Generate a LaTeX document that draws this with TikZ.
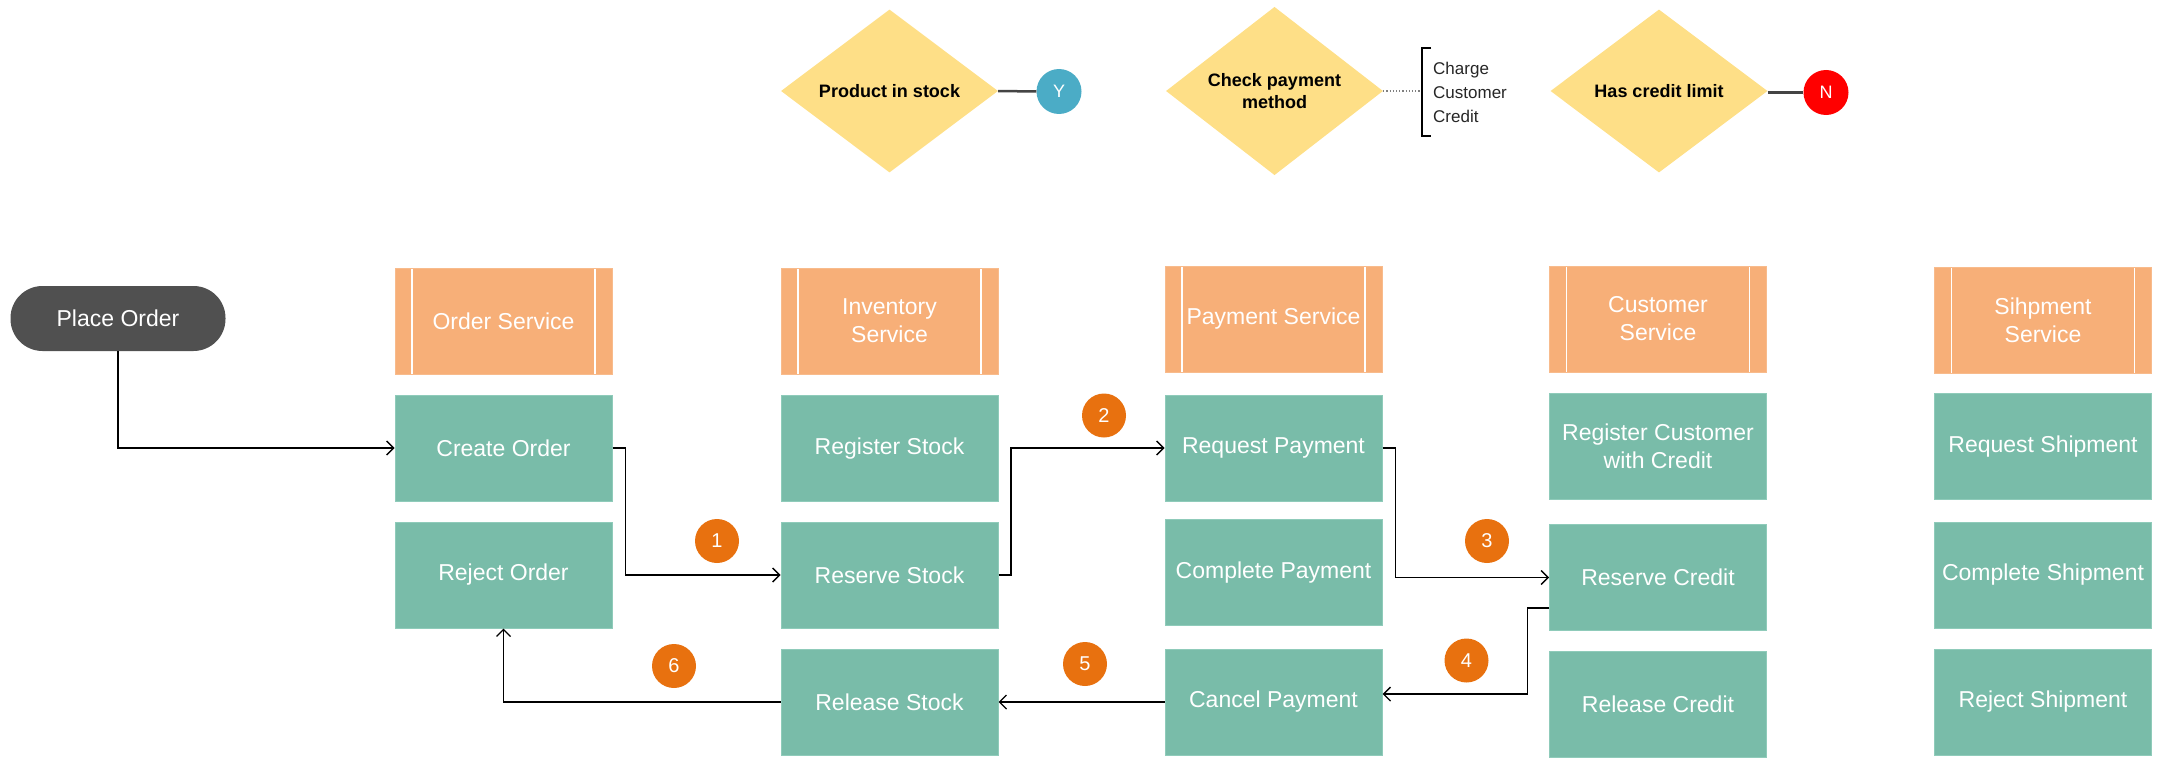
\documentclass[tikz,border=0pt]{standalone}
\usepackage{fontspec}
\setmainfont{Liberation Sans}
\usetikzlibrary{shapes.geometric,arrows.meta}
\definecolor{teal1}{HTML}{79BCA9}
\definecolor{tealb}{HTML}{8FCBBA}
\definecolor{orng}{HTML}{F7AF78}
\definecolor{ylw}{HTML}{FEDF87}
\definecolor{badgec}{HTML}{E8710F}
\definecolor{pillc}{HTML}{505050}
\definecolor{ycirc}{HTML}{4BACC6}
\definecolor{ncirc}{HTML}{FF0000}
\definecolor{linkc}{HTML}{444444}
\begin{document}
\begin{tikzpicture}[x=1pt,y=-1pt,
 task/.style={rectangle, fill=teal1, draw=tealb, line width=1pt, minimum width=217pt, minimum height=106pt, inner sep=0pt, text=white, font=\fontsize{23}{28}\selectfont, align=center},
 svc/.style={task, fill=orng, draw=orng!85!white, path picture={\draw[white,line width=1.5pt] ([xshift=17pt]path picture bounding box.north west) -- ([xshift=17pt]path picture bounding box.south west) ([xshift=-17pt]path picture bounding box.north east) -- ([xshift=-17pt]path picture bounding box.south east);}},
 pill/.style={rectangle, rounded corners=32pt, fill=pillc, minimum width=215pt, minimum height=65pt, inner sep=0pt, text=white, font=\fontsize{23}{28}\selectfont},
 badge/.style={circle, fill=badgec, minimum size=44pt, inner sep=0pt, text=white, font=\fontsize{20}{24}\selectfont},
 decision/.style={diamond, fill=ylw, minimum width=217pt, minimum height=163pt, inner sep=0pt, font=\bfseries\fontsize{18}{22}\selectfont, align=center},
 flag/.style={circle, minimum size=45pt, inner sep=0pt, text=white, font=\fontsize{18}{22}\selectfont},
 arr/.style={draw=black, line width=1.4pt, -{Straight Barb[length=7pt,width=14pt]}},
 link/.style={draw=linkc, line width=2.5pt},
]
\useasboundingbox (0,0) rectangle (2169,768);

% top decisions
\node[decision] (d1) at (889.5,91) {Product in stock};
\node[decision] (d2) at (1274.5,91) {Check payment\\method};
\node[decision] (d3) at (1659,91) {Has credit limit};
\node[flag, fill=ycirc] (yc) at (1059,91.5) {Y};
\node[flag, fill=ncirc] (nc) at (1826,92.5) {N};
\draw[link] (d1.east) -- (yc.west);
\draw[link] (d3.east |- nc.west) -- (nc.west);
\coordinate (br) at (1422,91);
\draw[gray, line width=1.2pt, dotted] (d2.east) -- (br);
\draw[black, line width=1.3pt] (1431,48) -- (1422,48) -- (1422,136) -- (1431,136);
\node[anchor=west, align=left, inner sep=0pt, font=\fontsize{17}{24}\selectfont, text=black!85] (chg) at (1433,92) {Charge\\Customer\\Credit};

% start
\node[pill] (po) at (118,318.5) {Place Order};

% headers
\node[svc] (hos) at (503.5,321) {Order Service};
\node[svc] (his) at (889.5,321) {Inventory\\Service};
\node[svc] (hps) at (1273.5,319) {Payment Service};
\node[svc] (hcs) at (1658,319) {Customer\\Service};
\node[svc] (hss) at (2043,320) {Sihpment\\Service};

% order service
\node[task] (co) at (503.5,448) {Create Order};
\node[task] (ro) at (503.5,575) {Reject Order};
% inventory
\node[task] (rgs) at (889.5,448.5) {Register Stock};
\node[task] (rs) at (889.5,575) {Reserve Stock};
\node[task] (rls) at (889.5,702) {Release Stock};
% payment
\node[task] (rp) at (1273.5,448) {Request Payment};
\node[task] (cpm) at (1273.5,572.5) {Complete Payment};
\node[task] (cp) at (1273.5,702) {Cancel Payment};
% customer
\node[task] (rcc) at (1658,446.5) {Register Customer\\with Credit};
\node[task] (rc) at (1658,577.5) {Reserve Credit};
\node[task] (rlc) at (1658,704) {Release Credit};
% shipment
\node[task] (rsh) at (2043,446.5) {Request Shipment};
\node[task] (csh) at (2043,575) {Complete Shipment};
\node[task] (rjs) at (2043,702) {Reject Shipment};

% flow
\draw[arr] (po.south) |- (co.west);
\draw[arr] (co.east) -- ++(13,0) |- (rs.west);
\draw[arr] (rs.east) -- ++(12.5,0) |- (rp.west);
\draw[arr] (rp.east) -- ++(13,0) |- (rc.west);
\draw[arr] ([yshift=-30.5pt]rc.west) -- ++(-21.5,0) |- ([yshift=8pt]cp.east);
\draw[arr] (cp.west) -- (rls.east);
\draw[arr] (rls.west) -| (ro.south);

% badges
\node[badge] (b1) at (717,541) {1};
\node[badge] (b2) at (1104,415.5) {2};
\node[badge] (b3) at (1487,541) {3};
\node[badge] (b4) at (1466.5,660.5) {4};
\node[badge] (b5) at (1085,664) {5};
\node[badge] (b6) at (674,666) {6};
\end{tikzpicture}
\end{document}
